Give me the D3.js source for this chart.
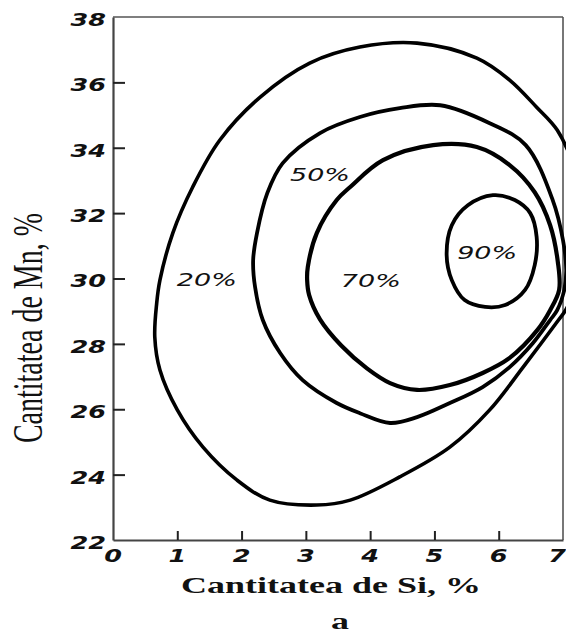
<!DOCTYPE html>
<html>
<head>
<meta charset="utf-8">
<script src="https://cdn.jsdelivr.net/npm/d3@7"></script>
<style>
  html, body { margin: 0; padding: 0; background: #fff; }
  svg { display: block; }
</style>
</head>
<body>
<svg id="chart" width="566" height="635"></svg>
<script>
// Axis ticks
const siTicks = [0, 1, 2, 3, 4, 5, 6, 7];
const mnTicks = [22, 24, 26, 28, 30, 32, 34, 36, 38];

// Iso-lines (Si %, Mn %), traced clockwise from the top of each contour
const si20 = [4.73, 5.66, 6.17, 6.59, 6.91, 7.19, 7.39, 7.22, 7.04, 6.93, 6.38, 5.86, 5.24, 4.46, 3.69, 3.17, 2.44, 1.93, 1.40, 1.00, 0.73, 0.65, 0.68, 0.73, 0.93, 1.24, 1.66, 2.29, 3.06, 3.84];
const mn20 = [37.20, 36.74, 36.07, 35.24, 34.54, 33.31, 31.48, 29.80, 29.03, 28.73, 27.29, 25.98, 24.84, 23.93, 23.22, 23.07, 23.22, 23.83, 24.84, 25.98, 27.20, 28.21, 29.25, 29.95, 31.39, 32.80, 34.23, 35.55, 36.59, 37.08];

const si50 = [5.09, 5.86, 6.42, 6.84, 7.00, 7.05, 7.02, 6.91, 6.80, 6.53, 6.17, 5.75, 5.24, 4.73, 4.31, 3.84, 3.48, 2.95, 2.60, 2.33, 2.21, 2.18, 2.24, 2.40, 2.64, 3.22, 3.84, 4.46];
const mn50 = [35.30, 34.75, 34.08, 32.40, 31.17, 30.26, 29.65, 29.03, 28.73, 28.02, 27.29, 26.68, 26.19, 25.76, 25.58, 25.88, 26.19, 26.89, 27.72, 28.73, 29.74, 30.56, 31.39, 32.61, 33.53, 34.45, 34.94, 35.21];

const si70 = [4.98, 5.66, 6.17, 6.56, 6.80, 6.92, 6.94, 6.80, 6.60, 6.17, 5.75, 5.24, 4.73, 4.31, 3.95, 3.55, 3.22, 3.05, 3.02, 3.03, 3.17, 3.48, 3.69, 4.20];
const mn70 = [34.08, 34.02, 33.47, 32.64, 31.63, 30.50, 29.65, 29.03, 28.42, 27.57, 27.11, 26.74, 26.59, 26.80, 27.25, 27.95, 28.75, 29.50, 29.95, 30.35, 31.39, 32.40, 32.80, 33.62];

const si90 = [5.91, 6.25, 6.49, 6.59, 6.56, 6.41, 6.10, 5.79, 5.47, 5.27, 5.19, 5.27, 5.52];
const mn90 = [32.55, 32.40, 32.00, 31.27, 30.41, 29.65, 29.19, 29.13, 29.34, 29.95, 30.72, 31.63, 32.24];

// Contour labels
const labelText = ["20%", "50%", "70%", "90%"];
const labelSi = [1.46, 3.22, 4.01, 5.82];
const labelMn = [29.95, 33.16, 29.92, 30.78];

const svg = d3.select("#chart");
const x = d3.scaleLinear().domain([0, 7]).range([113, 563]);
const y = d3.scaleLinear().domain([22, 38]).range([540, 17]);

// Wide letterforms of the printed figure
const WIDE = 1.5;
const put = (sel, px, py) => sel.attr("transform", `translate(${px},${py}) scale(${WIDE},1)`);

// Frame: top and right edges
svg.append("line").attr("x1", x(0)).attr("x2", x(7)).attr("y1", y(38)).attr("y2", y(38))
  .attr("stroke", "#555").attr("stroke-width", 1.6);
svg.append("line").attr("x1", x(7)).attr("x2", x(7)).attr("y1", y(38)).attr("y2", y(22))
  .attr("stroke", "#555").attr("stroke-width", 1.6);

// Axes with inward ticks
const yAxis = d3.axisLeft(y).tickValues(mnTicks.slice(1, -1)).tickSize(-12).tickSizeOuter(0).tickFormat("");
const xAxis = d3.axisBottom(x).tickValues(siTicks.slice(1, -1)).tickSize(-9).tickSizeOuter(0).tickFormat("");
const gy = svg.append("g").attr("transform", `translate(${x(0)},0)`).call(yAxis);
const gx = svg.append("g").attr("transform", `translate(0,${y(22)})`).call(xAxis);
[gy, gx].forEach(g => {
  g.select(".domain").attr("stroke", "#444").attr("stroke-width", 2.2);
  g.selectAll(".tick line").attr("stroke", "#222").attr("stroke-width", 2);
});

// Tick labels
const tickFont = "'DejaVu Sans', sans-serif";
svg.append("g").selectAll("text").data(mnTicks).join("text")
  .each(function (d) { put(d3.select(this), x(0) - 7, y(d) + 3); })
  .attr("text-anchor", "end").attr("dominant-baseline", "central")
  .attr("font-family", tickFont).attr("font-style", "italic").attr("font-weight", "bold")
  .attr("font-size", 17).attr("fill", "#111")
  .text(d => d);

// The last Si label sits against the right edge, so it is anchored by its end
svg.append("g").selectAll("text").data(siTicks).join("text")
  .each(function (d) { put(d3.select(this), d === 7 ? 566 : x(d), 556); })
  .attr("text-anchor", d => d === 7 ? "end" : "middle").attr("dominant-baseline", "central")
  .attr("font-family", tickFont).attr("font-style", "italic").attr("font-weight", "bold")
  .attr("font-size", 17).attr("fill", "#111")
  .text(d => d);

// Contours
const contours = [
  { si: si20, mn: mn20, w: 3.6 },
  { si: si50, mn: mn50, w: 3.8 },
  { si: si70, mn: mn70, w: 4.2 },
  { si: si90, mn: mn90, w: 3.8 }
];
const line = d3.line().x(p => x(p[0])).y(p => y(p[1])).curve(d3.curveCatmullRomClosed.alpha(0.5));
svg.append("g").selectAll("path").data(contours).join("path")
  .attr("d", c => line(c.si.map((s, i) => [s, c.mn[i]])))
  .attr("fill", "none").attr("stroke", "#000").attr("stroke-width", c => c.w)
  .attr("stroke-linejoin", "round");

// Contour labels
svg.append("g").selectAll("text").data(labelText).join("text")
  .each(function (d, i) { put(d3.select(this), x(labelSi[i]), y(labelMn[i])); })
  .attr("text-anchor", "middle").attr("dominant-baseline", "central")
  .attr("font-family", tickFont).attr("font-style", "italic")
  .attr("font-size", 18).attr("fill", "#111")
  .text(d => d);

// Axis titles
put(svg.append("text"), 331, 593)
  .attr("text-anchor", "middle")
  .attr("font-family", "'Liberation Serif', 'Times New Roman', serif").attr("font-weight", "bold")
  .attr("font-size", 24).attr("fill", "#111")
  .text("Cantitatea de Si, %");

svg.append("text")
  .attr("transform", `translate(42,328) scale(${WIDE},1) rotate(-90)`)
  .attr("text-anchor", "middle")
  .attr("font-family", "'Liberation Serif', 'Times New Roman', serif")
  .attr("font-size", 28).attr("fill", "#111")
  .text("Cantitatea de Mn, %");

put(svg.append("text"), 340, 629)
  .attr("text-anchor", "middle")
  .attr("font-family", "'Liberation Serif', 'Times New Roman', serif").attr("font-weight", "bold")
  .attr("font-size", 24).attr("fill", "#111")
  .text("a");
</script>
</body>
</html>
